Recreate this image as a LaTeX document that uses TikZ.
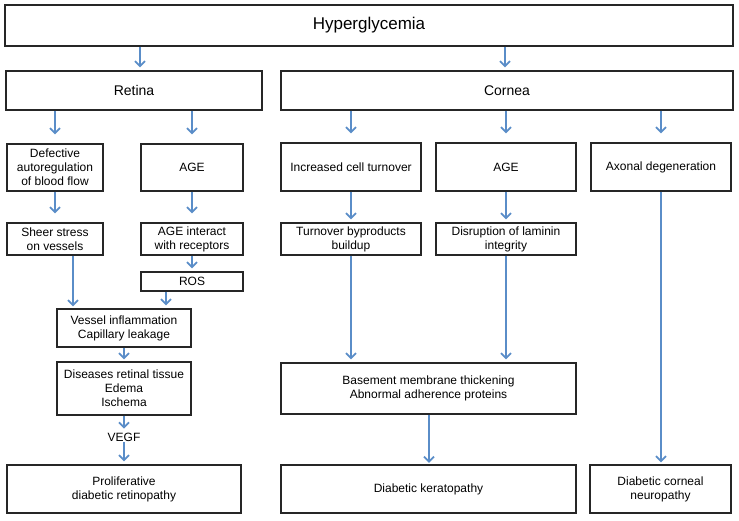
\documentclass[tikz,border=0pt]{standalone}
\usepackage{fontspec}
\setmainfont{Liberation Sans}
\usetikzlibrary{arrows.meta}
\definecolor{arrowblue}{HTML}{5A8DC8}
\definecolor{boxline}{HTML}{262626}
\tikzset{
  box/.style={draw=boxline, line width=1.4pt, fill=white, align=center, inner sep=2pt,
    font=\fontsize{12}{14}\selectfont},
  bigbox/.style={box, font=\fontsize{14}{17}\selectfont},
  arr/.style={draw=arrowblue, line width=2pt, shorten >=3pt,
    -{Straight Barb[length=5pt,width=10pt,line width=1.8pt]}},
  farr/.style={arr, shorten >=9pt},
}
\begin{document}
\begin{tikzpicture}[x=1pt,y=-1pt]
\useasboundingbox (0,0) rectangle (739,520);
% boxes
\node[box, minimum width=728, minimum height=41, font=\fontsize{17}{20}\selectfont] (hyper) at (369,25.5) {Hyperglycemia};
\node[bigbox, minimum width=256, minimum height=39] (retina) at (134,90.5) {Retina};
\node[bigbox, minimum width=452, minimum height=39] (cornea) at (507,90.5) {Cornea};

\node[box, minimum width=96, minimum height=47] (defect) at (55,167.5) {Defective\\autoregulation\\of blood flow};
\node[box, minimum width=102, minimum height=47] (ageR) at (192,167.5) {AGE};
\node[box, minimum width=140, minimum height=48] (incr) at (351,167) {Increased cell turnover};
\node[box, minimum width=140, minimum height=48] (ageC) at (506,167) {AGE};
\node[box, minimum width=140, minimum height=48] (axon) at (661,167) {Axonal degeneration};

\node[box, minimum width=96, minimum height=32] (sheer) at (55,239) {Sheer stress\\on vessels};
\node[box, minimum width=102, minimum height=32] (ageint) at (192,239) {AGE interact\\with receptors};
\node[box, minimum width=140, minimum height=32] (turn) at (351,239) {Turnover byproducts\\buildup};
\node[box, minimum width=140, minimum height=32] (disr) at (506,239) {Disruption of laminin\\integrity};

\node[box, minimum width=102, minimum height=19, inner sep=1pt] (ros) at (192,281.5) {ROS};
\node[box, minimum width=134, minimum height=38] (vessel) at (124,328) {Vessel inflammation\\Capillary leakage};
\node[box, minimum width=134, minimum height=53] (dis) at (124,388.5) {Diseases retinal tissue\\Edema\\Ischema};
\node[font=\fontsize{12}{14}\selectfont, inner sep=1pt] (vegf) at (124,437) {VEGF};
\node[box, minimum width=234, minimum height=48] (prolif) at (124,489) {Proliferative\\diabetic retinopathy};

\node[box, minimum width=295, minimum height=51] (base) at (428.5,388.5) {Basement membrane thickening\\Abnormal adherence proteins};
\node[box, minimum width=295, minimum height=48] (kerat) at (428.5,489) {Diabetic keratopathy};
\node[box, minimum width=141, minimum height=48] (neuro) at (660.5,489) {Diabetic corneal\\neuropathy};

% arrow x positions
\coordinate (xh1) at (140,0);
\coordinate (xh2) at (505,0);
\coordinate (xs) at (73,0);
\coordinate (xr) at (166,0);
\coordinate (xb) at (429,0);

% connectors
\draw[arr] (hyper.south -| xh1) -- (retina.north -| xh1);
\draw[arr] (hyper.south -| xh2) -- (cornea.north -| xh2);

\draw[farr] (retina.south -| defect.north) -- (defect.north);
\draw[farr] (retina.south -| ageR.north) -- (ageR.north);
\draw[farr] (cornea.south -| incr.north) -- (incr.north);
\draw[farr] (cornea.south -| ageC.north) -- (ageC.north);
\draw[farr] (cornea.south -| axon.north) -- (axon.north);

\draw[farr] (defect.south) -- (sheer.north);
\draw[farr] (ageR.south) -- (ageint.north);
\draw[arr] (incr.south) -- (turn.north);
\draw[arr] (ageC.south) -- (disr.north);

\draw[arr] (ageint.south) -- (ros.north);
\draw[arr, shorten >=2pt] (sheer.south -| xs) -- (vessel.north -| xs);
\draw[arr] (ros.south -| xr) -- (vessel.north -| xr);
\draw[arr, shorten >=2pt] (vessel.south) -- (dis.north);
\draw[arr] (dis.south) -- (vegf.north);
\draw[arr] (vegf.south) -- (prolif.north);

\draw[arr] (turn.south) -- (base.north -| turn.south);
\draw[arr] (disr.south) -- (base.north -| disr.south);
\draw[arr, shorten >=1.5pt] (base.south -| xb) -- (kerat.north -| xb);
\draw[arr, shorten >=2pt] (axon.south) -- (neuro.north -| axon.south);
\end{tikzpicture}
\end{document}
